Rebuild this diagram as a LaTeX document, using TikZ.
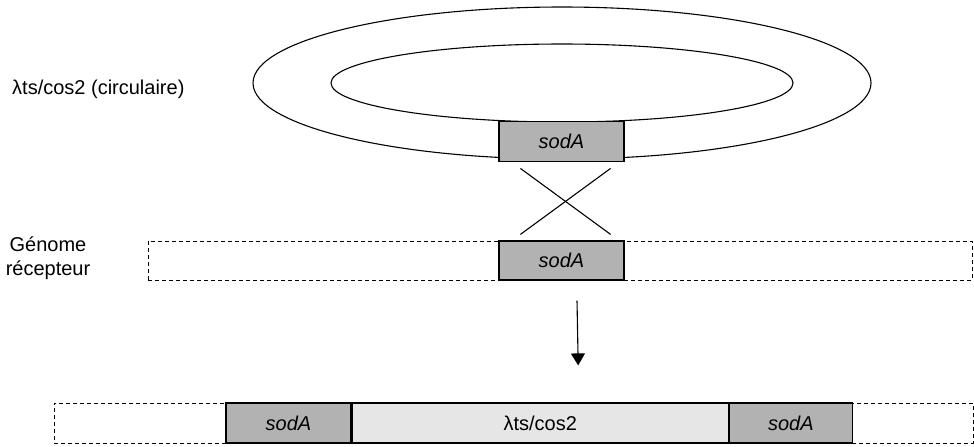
\documentclass[tikz,border=0pt]{standalone}
\usepackage{fontspec}
\setmainfont{Liberation Sans}
\usetikzlibrary{positioning}
\usetikzlibrary{calc}
\usetikzlibrary{arrows.meta}
\definecolor{genegray}{RGB}{178,178,178}
\definecolor{phagegray}{RGB}{230,230,230}
\tikzset{
    gene/.style={draw, fill=genegray, line width=0.6pt, minimum width=62.5pt, minimum height=20pt, inner sep=0pt, font=\itshape},
    phage/.style={draw, fill=phagegray, line width=0.6pt, minimum height=20pt, inner sep=0pt},
    chromo/.style={draw, dashed, dash pattern=on 2pt off 1.5pt, line width=0.5pt, minimum height=19.5pt, inner sep=0pt},
}

\begin{document}
\begin{tikzpicture}[x=0.5pt, y=-0.5pt, line width=0.55pt]
    \useasboundingbox (0,0) rectangle (974,446);

    % plasmide circulaire
    \draw (562,83) ellipse [x radius=309, y radius=76];
    \draw (562,83) ellipse [x radius=231, y radius=39];
    \node[gene] (sodtop) at (561.5,141.8) {sodA};
    \node[anchor=west] (plasmid) at (5,89) {λts/cos2 (circulaire)};

    % genome receveur
    \node[chromo, minimum width=412pt] (genome) at (560,260.5) {};
    \node[gene, minimum height=19.5pt] (sodmid) at (561.5,260.5) {sodA};
    \node[align=center, inner sep=0pt] (host) at (48,258) {Génome\\récepteur};

    % crossing over
    \draw ($(sodtop.south west)+(22,6)$) -- ($(sodmid.north east)+(-14,-6)$);
    \draw ($(sodtop.south east)+(-14,6)$) -- ($(sodmid.north west)+(22,-6)$);

    % resultat
    \node[chromo, minimum width=459.5pt, minimum height=20pt] (result) at (513.5,423) {};
    \node[gene] (sodleft) at (288.5,423) {sodA};
    \node[phage, minimum width=188pt, right=0pt of sodleft] (lam) {λts/cos2};
    \node[gene, minimum width=61.5pt, right=0pt of lam] (sodright) {sodA};

    \draw[-{Triangle[length=6pt,width=7pt]}] ($(genome.south)+(17,20)$) -- ($(lam.north)+(38,-37)$);
\end{tikzpicture}
\end{document}
